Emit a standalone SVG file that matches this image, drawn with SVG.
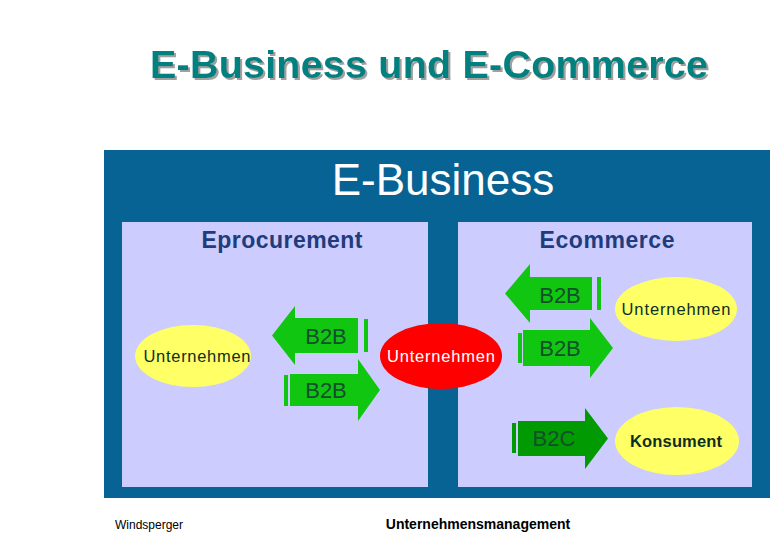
<svg xmlns="http://www.w3.org/2000/svg" width="780" height="540" viewBox="0 0 780 540">
<style>
.panel{fill:#CCCCFF}
.ell{fill:#FFFF66}
.arr{fill:#11C611}
.arrd{fill:#029A02}
.at{font-family:"Liberation Sans",Arial,sans-serif;font-size:22px;fill:#124F2C;text-anchor:middle}
.nt{font-family:"Liberation Sans",Arial,sans-serif;font-size:16.5px;fill:#0E2E24;text-anchor:middle}
.hd{font-family:"Liberation Sans",Arial,sans-serif;font-size:23px;font-weight:bold;fill:#203C7C;text-anchor:middle}
</style>
<defs>
<filter id="sh" x="-5%" y="-20%" width="110%" height="140%">
<feDropShadow dx="2" dy="2" stdDeviation="0.6" flood-color="#A0A0A0" flood-opacity="1"/>
</filter>
</defs>
<rect width="780" height="540" fill="#FFFFFF"/>
<g id="title">
<text x="429" y="78" font-family="'Liberation Sans',Arial,sans-serif" font-size="39.5" font-weight="bold" fill="#00807F" text-anchor="middle" textLength="558" lengthAdjust="spacing" filter="url(#sh)">E-Business und E-Commerce</text>
</g>
<g id="ebusiness">
<rect x="104" y="150" width="666" height="348" fill="#066394"/>
<text x="443" y="195" font-family="'Liberation Sans',Arial,sans-serif" font-size="44" fill="#FFFFFF" text-anchor="middle">E-Business</text>
</g>
<g id="eprocurement">
<rect class="panel" x="122" y="222" width="306" height="265"/>
<text class="hd" x="282" y="248" textLength="161" lengthAdjust="spacing">Eprocurement</text>
</g>
<g id="ecommerce">
<rect class="panel" x="458" y="222" width="294" height="265"/>
<text class="hd" x="607" y="248" textLength="135" lengthAdjust="spacing">Ecommerce</text>
</g>
<g id="unternehmen-links">
<ellipse class="ell" cx="193" cy="356" rx="58" ry="31"/>
<text class="nt" x="197" y="362" textLength="107" lengthAdjust="spacing">Unternehmen</text>
</g>
<g id="unternehmen-mitte">
<ellipse cx="441" cy="356" rx="61" ry="33" fill="#FF0000"/>
<text class="nt" x="441" y="362" style="fill:#FFFFFF" textLength="108" lengthAdjust="spacing">Unternehmen</text>
</g>
<g id="unternehmen-rechts">
<ellipse class="ell" cx="676" cy="309" rx="61" ry="32"/>
<text class="nt" x="676" y="315" textLength="109" lengthAdjust="spacing">Unternehmen</text>
</g>
<g id="konsument">
<ellipse class="ell" cx="677" cy="441" rx="62" ry="34"/>
<text class="nt" x="676" y="447" font-weight="bold" textLength="92" lengthAdjust="spacing">Konsument</text>
</g>
<g id="connectors">
<g id="b2b-eproc-in">
<polygon class="arr" points="272,335.5 295,306 295,318 358,318 358,353 295,353 295,365"/>
<rect class="arr" x="364" y="319" width="4" height="33"/>
<text class="at" x="326" y="344">B2B</text>
</g>
<g id="b2b-eproc-out">
<rect class="arr" x="284" y="375" width="4" height="31"/>
<polygon class="arr" points="290,374 358,374 358,359 380,390 358,421 358,406 290,406"/>
<text class="at" x="326" y="398">B2B</text>
</g>
<g id="b2b-ecom-in">
<polygon class="arr" points="505,293.5 530,264 530,277 592,277 592,310 530,310 530,323"/>
<rect class="arr" x="597" y="277" width="4" height="33"/>
<text class="at" x="560" y="303">B2B</text>
</g>
<g id="b2b-ecom-out">
<rect class="arr" x="518" y="333" width="4" height="30"/>
<polygon class="arr" points="523,330 590,330 590,318 613,348 590,378 590,366 523,366"/>
<text class="at" x="560" y="356">B2B</text>
</g>
<g id="b2c">
<rect class="arrd" x="512" y="423" width="4" height="30"/>
<polygon class="arrd" points="518,421 585,421 585,408 608,438.5 585,469 585,456 518,456"/>
<text class="at" x="554" y="446">B2C</text>
</g>
</g>
<g id="footer">
<text x="115" y="529" font-family="'Liberation Sans',Arial,sans-serif" font-size="12" fill="#000000">Windsperger</text>
<text x="478" y="529" font-family="'Liberation Sans',Arial,sans-serif" font-size="14" font-weight="bold" fill="#000000" text-anchor="middle">Unternehmensmanagement</text>
</g>
</svg>
